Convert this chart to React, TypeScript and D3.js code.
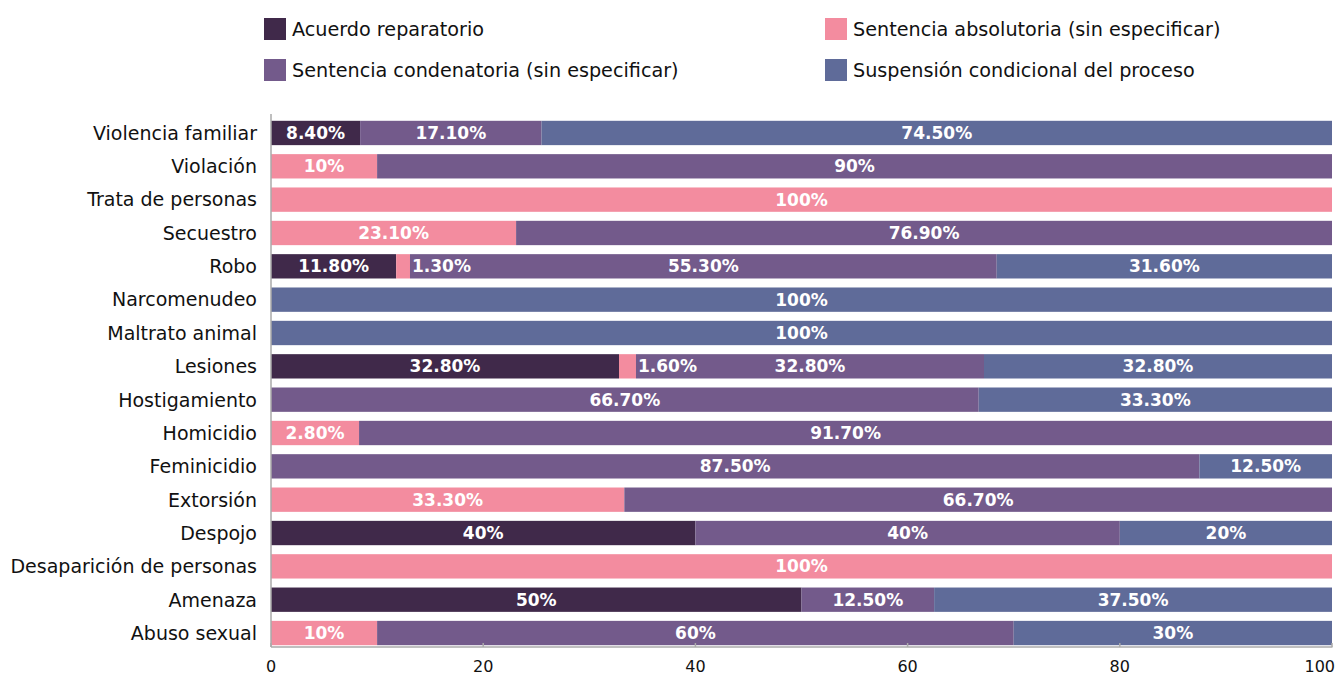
import React from "react";
import * as d3 from "d3";

const categories = [
  "Violencia familiar",
  "Violación",
  "Trata de personas",
  "Secuestro",
  "Robo",
  "Narcomenudeo",
  "Maltrato animal",
  "Lesiones",
  "Hostigamiento",
  "Homicidio",
  "Feminicidio",
  "Extorsión",
  "Despojo",
  "Desaparición de personas",
  "Amenaza",
  "Abuso sexual",
];

const seriesNames = [
  "Acuerdo reparatorio",
  "Sentencia absolutoria (sin especificar)",
  "Sentencia condenatoria (sin especificar)",
  "Suspensión condicional del proceso",
];

const acuerdo = [8.4, 0, 0, 0, 11.8, 0, 0, 32.8, 0, 0, 0, 0, 40, 0, 50, 0];
const absolutoria = [0, 10, 100, 23.1, 1.3, 0, 0, 1.6, 0, 8.3, 0, 33.3, 0, 100, 0, 10];
const condenatoria = [17.1, 90, 0, 76.9, 55.3, 0, 0, 32.8, 66.7, 91.7, 87.5, 66.7, 40, 0, 12.5, 60];
const suspension = [74.5, 0, 0, 0, 31.6, 100, 100, 32.8, 33.3, 0, 12.5, 0, 20, 0, 37.5, 30];

// label text as printed in the source (Homicidio absolutoria printed as 2.80%)
const labelOverrides: Record<string, string> = { "Homicidio|1": "2.80%" };

const xTicks = [0, 20, 40, 60, 80, 100];

const colors = ["#40294a", "#f38c9f", "#735a8b", "#5f6b99"];

const FONT = "'DejaVu Sans', sans-serif";

function fmt(v: number) {
  return Number.isInteger(v) ? `${v}%` : `${v.toFixed(2)}%`;
}

export default function App() {
  const W = 1338;
  const H = 675;
  const x = d3.scaleLinear().domain([0, 100]).range([271, 1332]);
  const y = d3
    .scaleBand<string>()
    .domain(categories)
    .range([116.3, 649.7])
    .paddingInner(0.27)
    .paddingOuter(0.135);

  const table = categories.map((c, i) => {
    const row: any = { cat: c };
    [acuerdo, absolutoria, condenatoria, suspension].forEach((arr, k) => {
      row[k] = arr[i];
    });
    return row;
  });
  const stack = d3.stack<any>().keys(["0", "1", "2", "3"])(table);

  const bh = y.bandwidth();
  const axisY = 647;

  const labelW = (t: string) => t.length * 11.5;
  const order = [0, 2, 1, 3];

  return (
    <svg
      width={W}
      height={H}
      style={{ position: "absolute", left: 0, top: 0, background: "#fff" }}
      fontFamily={FONT}
    >
      {/* legend */}
      {seriesNames.map((name, k) => {
        const pos = order.indexOf(k);
        const col = pos < 2 ? 0 : 1;
        const row = pos % 2;
        const gx = col === 0 ? 264 : 825;
        const gy = row === 0 ? 18 : 59;
        return (
          <g key={name}>
            <rect x={gx} y={gy} width={22} height={22} fill={colors[k]} />
            <text x={gx + 28} y={gy + 18} fontSize={19.2} fill="#111">
              {name}
            </text>
          </g>
        );
      })}

      {/* bars */}
      {stack.map((s, k) => (
        <g key={k}>
          {s.map((d, i) => {
            const v = d[1] - d[0];
            if (v <= 0) return null;
            const cat = categories[i];
            return (
              <rect
                key={cat}
                x={x(d[0])}
                y={y(cat)!}
                width={x(d[1]) - x(d[0])}
                height={bh}
                fill={colors[k]}
              />
            );
          })}
        </g>
      ))}

      {/* segment labels */}
      {stack.map((s, k) => (
        <g key={"l" + k}>
          {s.map((d, i) => {
            const v = d[1] - d[0];
            if (v <= 0) return null;
            const cat = categories[i];
            const t = labelOverrides[`${cat}|${k}`] ?? fmt(v);
            const x0 = x(d[0]);
            const x1 = x(d[1]);
            const w = x1 - x0;
            const fits = labelW(t) + 4 < w;
            return (
              <text
                key={cat}
                x={fits ? (x0 + x1) / 2 : x1 + 2}
                y={y(cat)! + bh / 2}
                dy="0.36em"
                textAnchor={fits ? "middle" : "start"}
                fontSize={17}
                fontWeight={700}
                fill="#fff"
              >
                {t}
              </text>
            );
          })}
        </g>
      ))}

      {/* category labels */}
      {categories.map((c) => (
        <text
          key={c}
          x={257}
          y={y(c)! + bh / 2}
          dy="0.36em"
          textAnchor="end"
          fontSize={19}
          fill="#111"
        >
          {c}
        </text>
      ))}

      {/* axes */}
      <line x1={271} x2={271} y1={114} y2={axisY} stroke="#aaa" strokeWidth={1.5} />
      <line x1={271} x2={1332.5} y1={axisY} y2={axisY} stroke="#aaa" strokeWidth={1.5} />
      {xTicks.map((t, i) => (
        <g key={t}>
          <line x1={x(t)} x2={x(t)} y1={axisY - 4} y2={axisY} stroke="#aaa" strokeWidth={1.5} />
          <text
            x={i === xTicks.length - 1 ? x(t) + 3 : x(t)}
            y={672}
            textAnchor={i === xTicks.length - 1 ? "end" : "middle"}
            fontSize={16}
            fill="#111"
          >
            {t}
          </text>
        </g>
      ))}
    </svg>
  );
}
